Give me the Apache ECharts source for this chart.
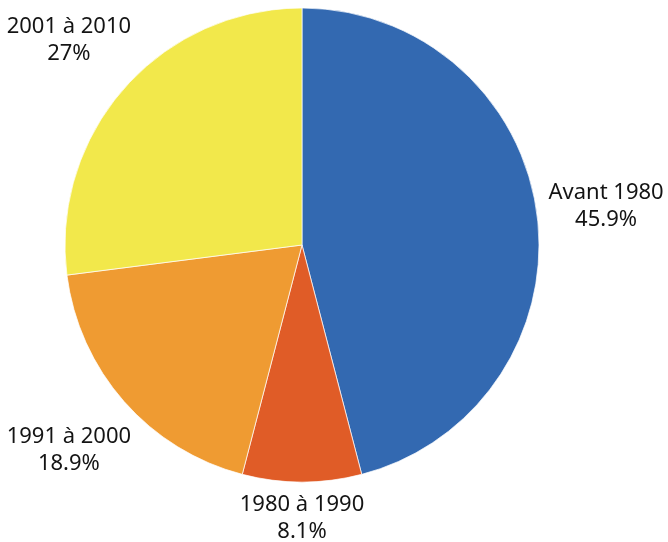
<!DOCTYPE html>
<html>
<head>
<meta charset="utf-8">
<script src="https://cdn.jsdelivr.net/npm/echarts@6/dist/echarts.min.js"></script>
<style>
html,body{margin:0;padding:0;background:#fff;}
#chart{width:668px;height:542px;}
</style>
</head>
<body>
<div id="chart"></div>
<script>
var categories = ['Avant 1980', '1980 à 1990', '1991 à 2000', '2001 à 2010'];
var values = [45.9, 8.1, 18.9, 27];
var colors = ['#3369B1', '#E05C27', '#EF9B32', '#F2E84B'];

var CX = 302, CY = 245, R = 237, GAP = 9;
var total = values.reduce(function (a, b) { return a + b; }, 0);
var cum = [];
values.reduce(function (acc, v, i) { cum[i] = acc; return acc + v; }, 0);

var chart = echarts.init(document.getElementById('chart'), null, { renderer: 'canvas' });
chart.setOption({
  animation: false,
  backgroundColor: '#ffffff',
  series: [{
    type: 'pie',
    center: [CX, CY],
    radius: [0, R],
    startAngle: 90,
    clockwise: true,
    avoidLabelOverlap: false,
    data: categories.map(function (c, i) {
      return { name: c, value: values[i], itemStyle: { color: colors[i] } };
    }),
    itemStyle: { borderColor: '#ffffff', borderWidth: 0.7 },
    label: {
      show: true,
      position: 'outside',
      formatter: '{b}\n{c}%',
      fontFamily: 'Noto Sans',
      fontSize: 22,
      lineHeight: 27,
      color: '#141414',
      align: 'center'
    },
    labelLine: { show: false, length: 10, length2: 0 },
    labelLayout: function (p) {
      var i = p.dataIndex;
      var mid = (cum[i] + values[i] / 2) / total * 2 * Math.PI;
      var ux = Math.sin(mid), uy = -Math.cos(mid);
      var w = p.labelRect.width, h = p.labelRect.height;
      var d = R + GAP + Math.abs(ux) * w / 2 + Math.abs(uy) * h / 2;
      return { x: CX + ux * d, y: CY + uy * d, align: 'center', verticalAlign: 'middle' };
    },
    emphasis: { disabled: true }
  }]
});
</script>
</body>
</html>
